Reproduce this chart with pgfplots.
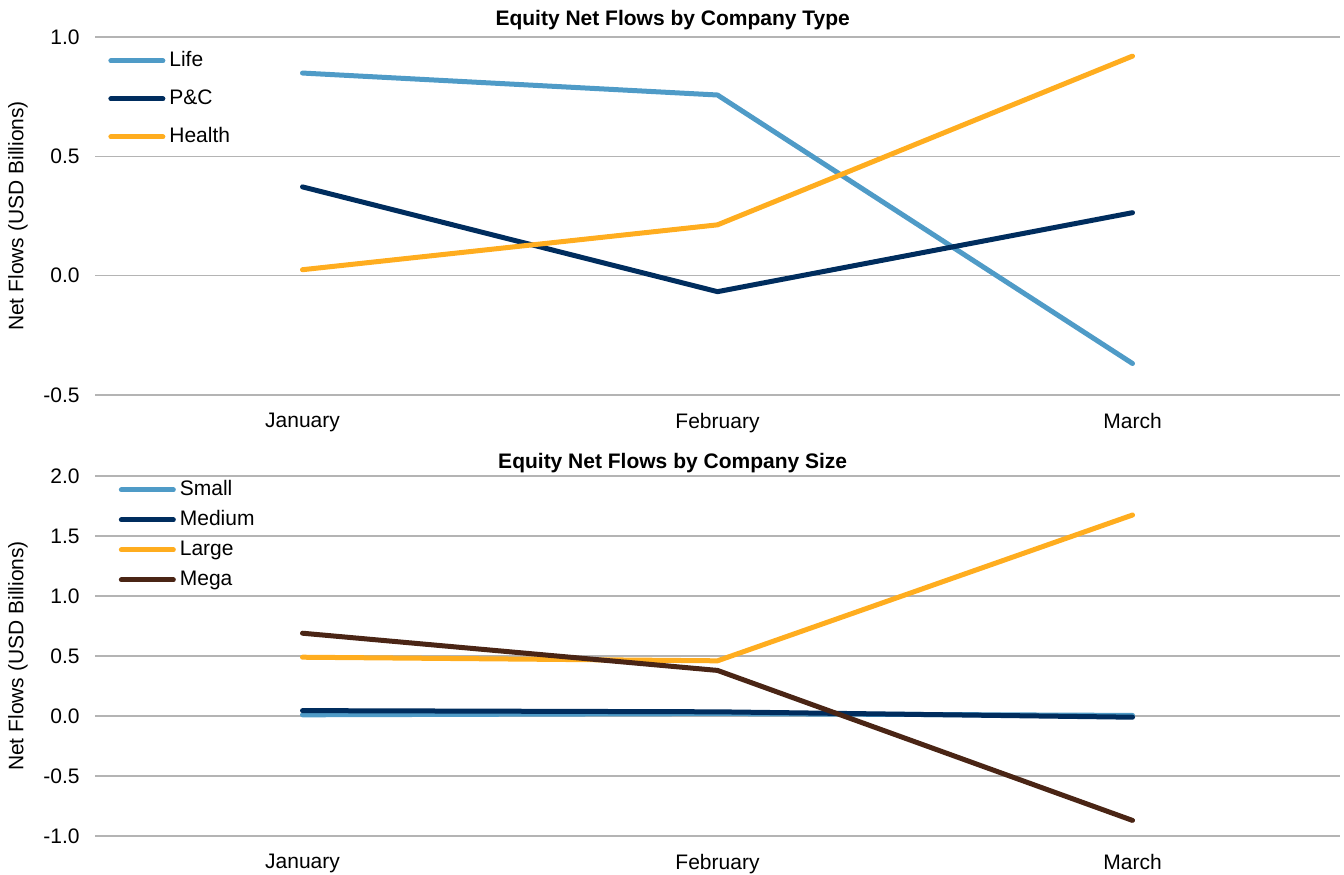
\documentclass[border=0pt]{standalone}
\usepackage{pgfplots}
\pgfplotsset{compat=1.18}
\usepackage{fontspec}
\setmainfont{Liberation Sans}

\definecolor{lifeblue}{HTML}{4F9BC7}
\definecolor{navy}{HTML}{002D5E}
\definecolor{gold}{HTML}{FFAD1F}
\definecolor{brown}{HTML}{4A2515}
\definecolor{gridgray}{HTML}{B4B4B4}

\pgfplotsset{
  flowaxis/.style={
    scale only axis,
    width=622.5pt,
    xmin=-0.5, xmax=2.5,
    xtick={0,1,2},
    xticklabels={January,February,March},
    axis line style={draw=none},
    tick style={draw=none},
    major tick length=0pt,
    ymajorgrids,
    grid style={gridgray, line width=0.75pt},
    font=\fontsize{10.5}{12}\selectfont,
    /pgf/number format/assume math mode=true,
    /pgf/number format/fixed,
    /pgf/number format/fixed zerofill,
    /pgf/number format/precision=1,
    yticklabel style={/tikz/inner sep=0pt, /tikz/xshift=-7.5pt},
    xticklabel style={/tikz/inner sep=0pt, /tikz/yshift=-9pt},
    ylabel={Net Flows (USD Billions)},
    every axis y label/.style={at={(axis description cs:-0.0618,0.5)}, rotate=90, anchor=center},
    title style={at={(axis description cs:0.464,1)}, anchor=center, font=\bfseries\fontsize{10.5}{12}\selectfont},
    legend cell align=left,
    legend image code/.code={\draw[#1, line width=2.5pt, line cap=round] (0pt,0pt) -- (26pt,0pt); \path (28pt,0pt);},
    every axis plot/.append style={line width=2.5pt, line join=round, line cap=round, mark=none},
  }
}

\begin{document}
\begin{tikzpicture}
\useasboundingbox (0,0) rectangle (672pt,-437pt);

% Upper panel: flows by company type
\begin{axis}[
  flowaxis,
  at={(47.5pt,-197.5pt)}, anchor=south west,
  height=179pt,
  ymin=-0.5, ymax=1.0,
  ytick={-0.5,0,0.5,1.0},
  title={Equity Net Flows by Company Type},
  title style={yshift=2.25pt},
  legend style={at={(axis description cs:0.0056,0.972)}, anchor=north west,
    draw=none, fill=none, row sep=9.5pt,
    nodes={inner sep=0pt, text height=7.5pt, text depth=2pt, font=\fontsize{10.5}{12}\selectfont}},
]
\addplot[lifeblue] coordinates {(0,0.849) (1,0.757) (2,-0.368)};
\addlegendentry{Life}
\addplot[navy] coordinates {(0,0.372) (1,-0.067) (2,0.264)};
\addlegendentry{P\&C}
\addplot[gold] coordinates {(0,0.025) (1,0.213) (2,0.920)};
\addlegendentry{Health}
\end{axis}

% Lower panel: flows by company size
\begin{axis}[
  flowaxis,
  at={(47.5pt,-418pt)}, anchor=south west,
  height=180pt,
  ymin=-1.0, ymax=2.0,
  ytick={-1,-0.5,0,0.5,1,1.5,2},
  title={Equity Net Flows by Company Size},
  title style={yshift=0.5pt},
  legend style={at={(axis description cs:0.014,1.0)}, anchor=north west,
    draw=none, fill=none, row sep=5.5pt,
    nodes={inner sep=0pt, text height=7.5pt, text depth=2pt, font=\fontsize{10.5}{12}\selectfont}},
]
\addplot[lifeblue] coordinates {(0,0.01) (1,0.02) (2,0.005)};
\addlegendentry{Small}
\addplot[navy] coordinates {(0,0.045) (1,0.035) (2,-0.01)};
\addlegendentry{Medium}
\addplot[gold] coordinates {(0,0.49) (1,0.46) (2,1.675)};
\addlegendentry{Large}
\addplot[brown] coordinates {(0,0.69) (1,0.38) (2,-0.87)};
\addlegendentry{Mega}
\end{axis}
\end{tikzpicture}
\end{document}
